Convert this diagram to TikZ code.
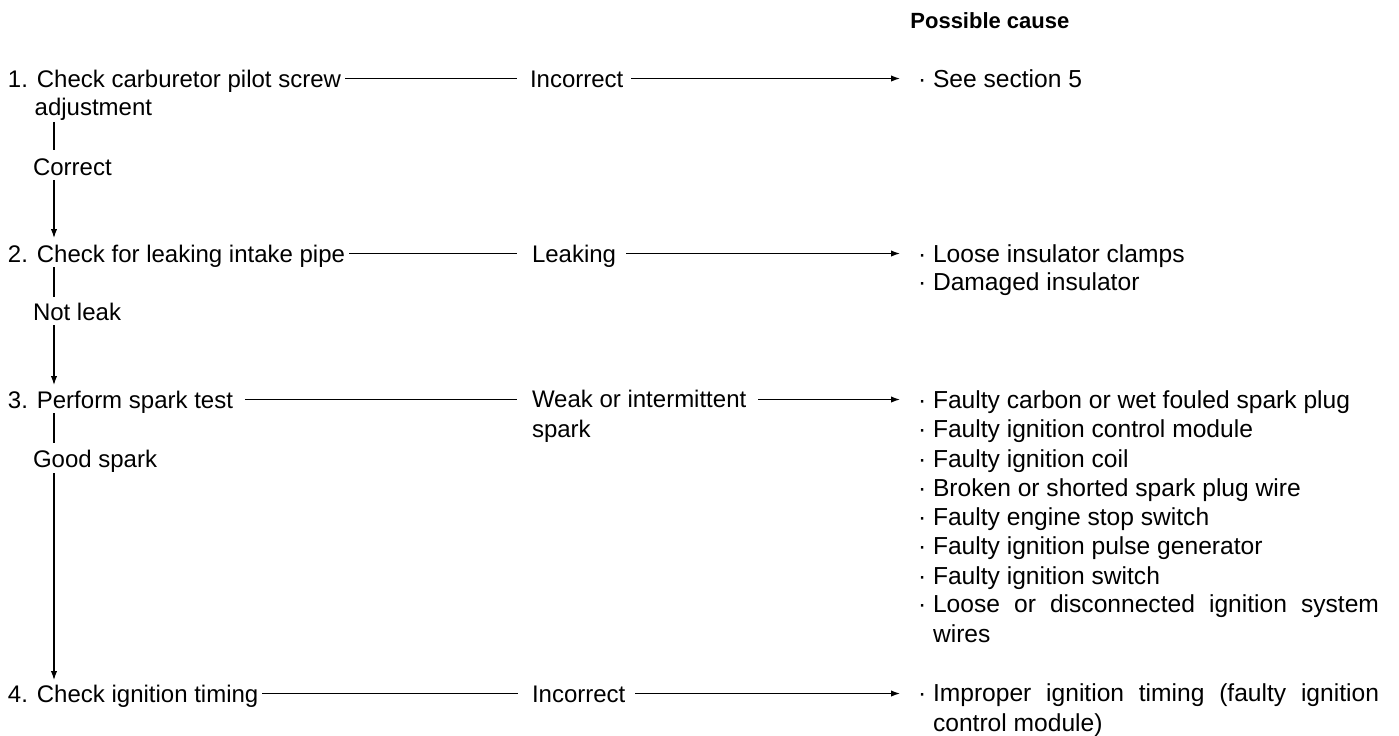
\documentclass[tikz,border=0pt]{standalone}
\usepackage{fontspec}
\setmainfont{Liberation Sans}
\usetikzlibrary{arrows.meta,calc}
\begin{document}
\begin{tikzpicture}[x=0.5pt,y=-0.5pt,
  txt/.style={inner sep=0pt, outer sep=0pt, font=\fontsize{12}{14}\selectfont, text height=10.5pt, text depth=2pt, anchor=base west},
  mtxt/.style={inner sep=0pt, outer sep=0pt, font=\fontsize{12}{14.6}\selectfont, align=left, anchor=base west},
  ctxt/.style={txt, font=\fontsize{12.3}{14.6}\selectfont},
  mctxt/.style={mtxt, font=\fontsize{12.3}{14.6}\selectfont},
  hdrtxt/.style={inner sep=0pt, font=\fontsize{11}{13}\selectfont\bfseries, anchor=base west},
  ln/.style={line width=0.6pt},
  arr/.style={line width=0.6pt, -{Latex[length=4.5pt,width=3.2pt]}}]
\useasboundingbox (0,0) rectangle (1399,735);
\coordinate (vx) at (54,0);
% header
\node[hdrtxt] (hdr) at (910,28) {Possible cause};
% steps (multi-line nodes are placed by the baseline of their last line)
\node[mtxt, font=\fontsize{12}{14}\selectfont] (s1) at (8,115) {1. Check carburetor pilot screw\\\hphantom{1.\ }adjustment};
\node[txt] (r1) at (33,175) {Correct};
\node[txt] (s2) at (8,262) {2. Check for leaking intake pipe};
\node[txt] (r2) at (33,320) {Not leak};
\node[txt] (s3) at (8,408) {3. Perform spark test};
\node[txt] (r3) at (33,467) {Good spark};
\node[txt] (s4) at (8,702) {4. Check ignition timing};
% middle results
\node[txt] (m1) at (530,87) {Incorrect};
\node[txt] (m2) at (532,262) {Leaking};
\node[mtxt] (m3) at (532,437) {Weak or intermittent\\spark};
\node[txt] (m4) at (532,702) {Incorrect};
% causes
\node[ctxt] (c1) at (918,87) {·\ See section 5};
\node[ctxt] (c2a) at (918,262) {·\ Loose insulator clamps};
\node[ctxt] (c2b) at (918,290) {·\ Damaged insulator};
\node[ctxt] (c3a) at (918,408) {·\ Faulty carbon or wet fouled spark plug};
\node[ctxt] (c3b) at (918,437) {·\ Faulty ignition control module};
\node[ctxt] (c3c) at (918,467) {·\ Faulty ignition coil};
\node[ctxt] (c3d) at (918,496) {·\ Broken or shorted spark plug wire};
\node[ctxt] (c3e) at (918,525) {·\ Faulty engine stop switch};
\node[ctxt] (c3f) at (918,554) {·\ Faulty ignition pulse generator};
\node[ctxt] (c3g) at (918,584) {·\ Faulty ignition switch};
\node[mctxt] (c3h) at (918,642) {·\ \makebox[223pt][s]{Loose or disconnected ignition system}\\\hphantom{·\ }wires};
\node[mctxt] (c4) at (918,731) {·\ \makebox[223pt][s]{Improper ignition timing (faulty ignition}\\\hphantom{·\ }control module)};
% vertical flow
\draw[ln, shorten <=1pt, shorten >=2pt] (s1.south -| vx) -- (r1.north -| vx);
\draw[arr, shorten <=0.5pt, shorten >=1.5pt] (r1.south -| vx) -- (s2.north -| vx);
\draw[ln, shorten <=0.5pt, shorten >=1pt] (s2.south -| vx) -- (r2.north -| vx);
\draw[arr, shorten <=0.5pt, shorten >=1pt] (r2.south -| vx) -- (s3.north -| vx);
\draw[ln, shorten <=0.5pt, shorten >=1.5pt] (s3.south -| vx) -- (r3.north -| vx);
\draw[arr, shorten <=1pt, shorten >=0.5pt] (r3.south -| vx) -- (s4.north -| vx);
% horizontal flow
\draw[ln, shorten <=2pt, shorten >=6.5pt] (s1.east |- m1.west) -- (m1.west);
\draw[arr, shorten <=4pt, shorten >=9pt] (m1.east) -- (c1.west);
\draw[ln, shorten <=2pt, shorten >=7.5pt] (s2.east) -- (m2.west);
\draw[arr, shorten <=5pt, shorten >=9pt] (m2.east) -- (c2a.west);
\draw[ln, shorten <=6pt, shorten >=7.5pt] (s3.east) -- (m3.west |- s3.east);
\draw[arr, shorten <=6pt, shorten >=9pt] (m3.east |- c3a.west) -- (c3a.west);
\draw[ln, shorten <=2pt, shorten >=7pt] (s4.east) -- (m4.west);
\draw[arr, shorten <=5pt, shorten >=9pt] (m4.east) -- (c4.west |- m4.east);
\end{tikzpicture}
\end{document}
